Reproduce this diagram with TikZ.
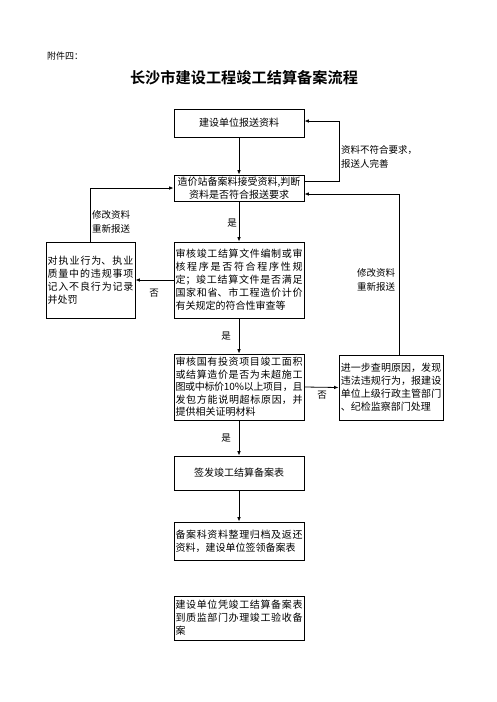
\documentclass[tikz,border=0pt]{standalone}
\usepackage{fontspec}
\setmainfont{Noto Sans CJK SC}[BoldFont={Noto Sans CJK SC Bold}]
\XeTeXlinebreaklocale "zh"
\XeTeXlinebreakskip=0pt plus 3pt minus 0.5pt
\usetikzlibrary{arrows.meta}

\begin{document}
\begin{tikzpicture}[x=1pt,y=-1pt,
    box/.style={draw=black,line width=0.9pt,inner sep=1.5pt,font=\fontsize{10}{13}\selectfont},
    jbox/.style={box,text width=#1,align=justify},
    arr/.style={-{Latex[length=4.5pt,width=3.6pt]},line width=0.8pt},
    lbl/.style={inner sep=0pt,font=\fontsize{9.5}{14}\selectfont}]
  \useasboundingbox (0,0) rectangle (496,702);

  \node[anchor=west,inner sep=0pt,font=\fontsize{9}{10}\selectfont] (t0) at (47,56){附件四：};
  \node[inner sep=0pt,font=\fontsize{15.2}{16}\selectfont\bfseries] (t) at (244,78){长沙市建设工程竣工结算备案流程};

  \node[box,minimum width=130pt,minimum height=28pt] (a) at (239,123){建设单位报送资料};
  \node[box,align=center,minimum width=130pt,minimum height=26pt] (b) at (239,188){造价站备案料接受资料,判断\\资料是否符合报送要求};
  \node[jbox=127pt,minimum height=76pt] (c) at (239,280){审核竣工结算文件编制或审\linebreak 核程序是否符合程序性规\linebreak 定；竣工结算文件是否满足\linebreak 国家和省、市工程造价计价\linebreak 有关规定的符合性审查等};
  \node[jbox=86pt,minimum height=76pt] (d) at (90.5,280){对执业行为、执业\linebreak 质量中的违规事项\linebreak 记入不良行为记录\linebreak 并处罚};
  \node[jbox=127pt,minimum height=66pt,font=\fontsize{10}{12.5}\selectfont] (e) at (239,387){审核国有投资项目竣工面积\linebreak 或结算造价是否为未超施工\linebreak 图或中标价10\%以上项目，且\linebreak 发包方能说明超标原因，并\linebreak 提供相关证明材料};
  \node[jbox=100.5pt,minimum height=65pt,inner sep=1.75pt] (f) at (391,387.5){进一步查明原因，发现\linebreak 违法违规行为，报建设\linebreak 单位上级行政主管部门\linebreak 、纪检监察部门处理};
  \node[box,minimum width=130pt,minimum height=34pt] (g) at (239,473){签发竣工结算备案表};
  \node[jbox=127pt,minimum height=38pt] (h) at (239,541){备案科资料整理归档及返还\linebreak 资料，建设单位签领备案表};
  \node[jbox=127pt,minimum height=44pt] (i) at (239,618){建设单位凭竣工结算备案表\linebreak 到质监部门办理竣工验收备\linebreak 案};

  % labels
  \node[lbl,anchor=west,align=left] (l1) at (341,156.5){资料不符合要求，\\报送人完善};
  \node[lbl,anchor=west,align=left] (l2) at (357,279.5){修改资料\\重新报送};
  \node[lbl,anchor=west,align=left] (l3) at (92,221.5){修改资料\\重新报送};
  \node[lbl] (y1) at (232,223){是};
  \node[lbl] (y2) at (226,336){是};
  \node[lbl] (y3) at (226,438){是};
  \node[lbl] (n1) at (154,293){否};
  \node[lbl] (n2) at (322,395){否};

  \coordinate (r1) at (339,121);

  \draw[arr] (a) -- (b);
  \draw[arr] ([yshift=7pt]b.east) -| (r1) -- (a.east |- r1);
  \draw[arr] (b) -- (c);
  \draw[arr] (c.west) -- (d.east);
  \draw[arr] (d.north) |- (b.west);
  \draw[arr] (c) -- (e);
  \draw[arr] (e.east) -- (f.west);
  \draw[arr] ([xshift=8pt]f.north) |- ([yshift=-6pt]b.east);
  \draw[arr] (e) -- (g);
  \draw[arr] (g) -- (h);
\end{tikzpicture}
\end{document}
